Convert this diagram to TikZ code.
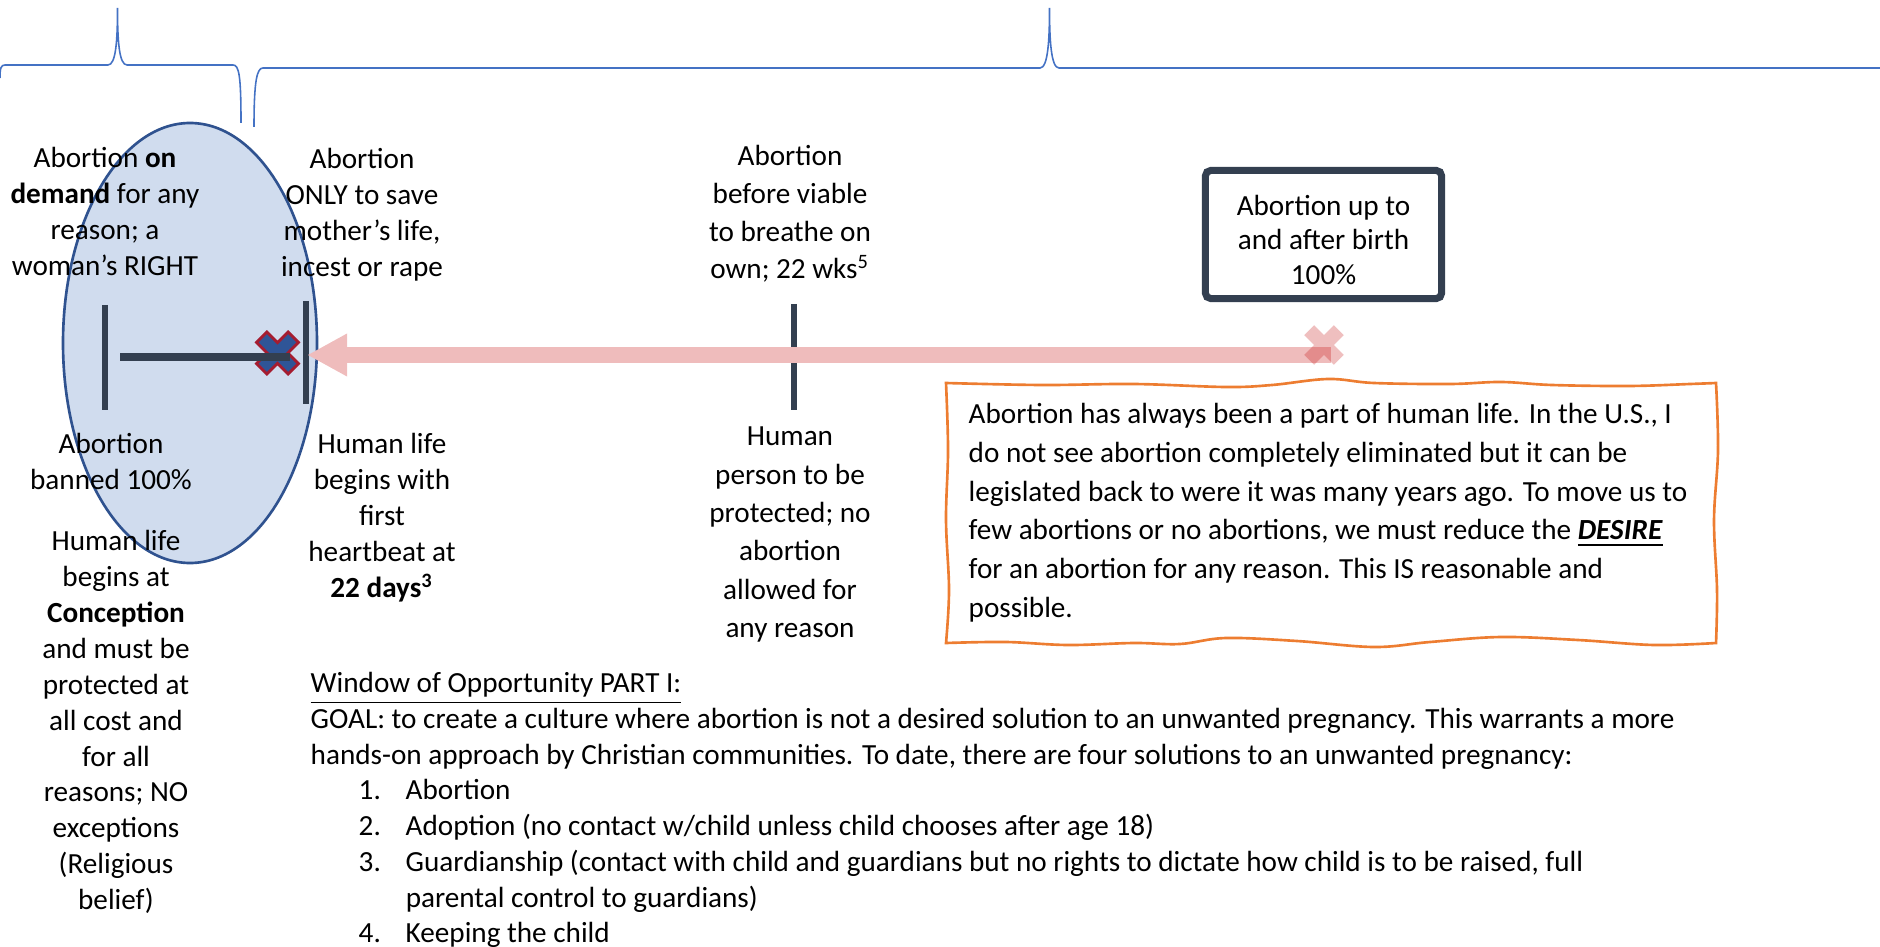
\documentclass[tikz,border=0pt]{standalone}
\usepackage{fontspec}
\setmainfont{Carlito}
\usetikzlibrary{arrows.meta}
\definecolor{slate}{HTML}{333F50}
\definecolor{ovalfill}{HTML}{D0DCEE}
\definecolor{ovaledge}{HTML}{2F528F}
\definecolor{bracecol}{HTML}{4472C4}
\definecolor{xblue}{HTML}{2F5597}
\definecolor{xred}{HTML}{A51C30}
\definecolor{lifepink}{HTML}{EFBCBC}
\definecolor{xpink}{HTML}{C00000}
\definecolor{noteorange}{HTML}{ED7D31}
\newcommand{\tstrut}{\rule{0pt}{8pt}}
\newcommand{\numitem}[1]{\hspace*{0.48cm}\makebox[0.47cm][l]{#1}}
\newcommand{\xpath}[2]{(#1,#2) -- (#1,#1) -- (#2,#1) -- (#2,-#1) -- (#1,-#1) -- (#1,-#2) -- (-#1,-#2) -- (-#1,-#1) -- (-#2,-#1) -- (-#2,#1) -- (-#1,#1) -- (-#1,#2) -- cycle}
\begin{document}
\begin{tikzpicture}[x=0.01cm, y=-0.01cm,
    lbl/.style={align=center, anchor=north, inner sep=0pt, font=\fontsize{8.3}{10.2}\selectfont},
    lblwide/.style={lbl, font=\fontsize{8.3}{10.9}\selectfont},
    tick/.style={draw=slate, line width=1.85pt},
    brace/.style={draw=bracecol, line width=0.45pt},
    crossmark/.style={fill=xblue, draw=xred, line width=0.8pt},
    lifearrow/.style={draw=lifepink, line width=4.3pt, -{Triangle[length=0.39cm, width=0.43cm, line width=0pt]}},
    endbox/.style={draw=slate, line width=2pt, rounded corners=1.5pt, minimum width=2.36cm, minimum height=1.28cm, align=center, font=\fontsize{8.3}{9.9}\selectfont},
    notebox/.style={draw=noteorange, line width=0.75pt},
    notetext/.style={anchor=north west, align=left, inner sep=0pt, font=\fontsize{8.3}{11}\selectfont}]
    \useasboundingbox (0,0) rectangle (1880,946);
    % braces on top
    \draw[brace] (0,78) .. controls (0,68) and (1,65) .. (5,65) -- (108,65) .. controls (116,65) and (117.5,40) .. (117.5,8) .. controls (117.5,40) and (119,65) .. (127,65) -- (233,65) .. controls (239,65) and (241,75) .. (241,123);
    \draw[brace] (254,127) .. controls (254,80) and (257,68) .. (263,68) -- (1040,68) .. controls (1048,68) and (1049.5,40) .. (1049.5,8) .. controls (1049.5,40) and (1051,68) .. (1059,68) -- (1880,68);
    % oval
    \draw[fill=ovalfill, draw=ovaledge, line width=0.75pt] (190,343) ellipse [x radius=127, y radius=220];
    % ticks
    \draw[tick] (105,305) -- (105,410);
    \draw[tick] (306,301) -- (306,404);
    \draw[tick] (794,304) -- (794,410);
    % blue cross and bar
    \draw[crossmark, shift={(277.5,353)}, rotate=45] \xpath{7.3}{22.4};
    \coordinate (barstart) at (120,357);
    \coordinate (barend) at (290,357);
    \draw[draw=slate, line width=2pt] (barstart) -- (barend);
    % arrow and pink cross
    \coordinate (latemark) at (1331,355);
    \coordinate (heartmark) at (308,355);
    \draw[lifearrow] (latemark) -- (heartmark);
    \fill[xpink, fill opacity=0.25, shift={(1324,345)}, rotate=45] \xpath{7}{21};
    % labels
    \node[lbl] (demand) at (105,139) {\tstrut Abortion \textbf{on}\\\textbf{demand} for any\\reason; a\\woman’s RIGHT};
    \node[lbl] (saveonly) at (362,140) {\tstrut Abortion\\ONLY to save\\mother’s life,\\incest or rape};
    \node[lbl] (banned) at (111,425) {\tstrut Abortion\\banned 100\%};
    \node[lbl] (heartbeat) at (382,425) {\tstrut Human life\\begins with\\first\\heartbeat at\\\textbf{22 days\textsuperscript{3}}};
    \node[lbl] (conception) at (116,522) {\tstrut Human life\\begins at\\\textbf{Conception}\\and must be\\protected at\\all cost and\\for all\\reasons; NO\\exceptions\\(Religious\\belief)};
    \node[lbl, font=\fontsize{8.3}{10.7}\selectfont] (viable) at (790,137) {\tstrut Abortion\\before viable\\to breathe on\\own; 22 wks\textsuperscript{5}};
    \node[lblwide] (person) at (790,417) {\tstrut Human\\person to be\\protected; no\\abortion\\allowed for\\any reason};
    \node[endbox] (afterbirth) at (1323.5,234.5) {\rule{0pt}{8.8pt}Abortion up to\\and after birth\\100\%};
    % wavy note
    \draw[notebox] plot[smooth, tension=0.6] coordinates {(946,383) (1042,385) (1134,384) (1226,387) (1272,385) (1328,379) (1374,383) (1450,384) (1501,382) (1552,385) (1629,386) (1690,384) (1716,383)}
        -- plot[smooth, tension=0.6] coordinates {(1716,383) (1718,450) (1714,520) (1717,590) (1716,643)}
        -- plot[smooth, tension=0.6] coordinates {(1716,643) (1654,645) (1578,640) (1501,637) (1430,642) (1374,647) (1297,641) (1226,638) (1180,644) (1134,643) (1068,645) (1006,642) (946,643)}
        -- plot[smooth, tension=0.6] coordinates {(946,643) (949,590) (946,520) (948,450) (946,383)} -- cycle;
    \node[notetext] (desire) at (968,395) {\tstrut Abortion has always been a part of human life. In the U.S., I\\do not see abortion completely eliminated but it can be\\legislated back to were it was many years ago. To move us to\\few abortions or no abortions, we must reduce the \underline{\textbf{\textit{DESIRE}}}\\for an abortion for any reason. This IS reasonable and\\possible.};
    % window text
    \node[notetext, font=\fontsize{8.3}{10.15}\selectfont] (window) at (310,664) {\tstrut\underline{Window of Opportunity PART I:}\\GOAL: to create a culture where abortion is not a desired solution to an unwanted pregnancy. This warrants a more\\hands-on approach by Christian communities. To date, there are four solutions to an unwanted pregnancy:\\\numitem{1.}Abortion\\\numitem{2.}Adoption (no contact w/child unless child chooses after age 18)\\\numitem{3.}Guardianship (contact with child and guardians but no rights to dictate how child is to be raised, full\\\numitem{}parental control to guardians)\\\numitem{4.}Keeping the child};
\end{tikzpicture}
\end{document}
